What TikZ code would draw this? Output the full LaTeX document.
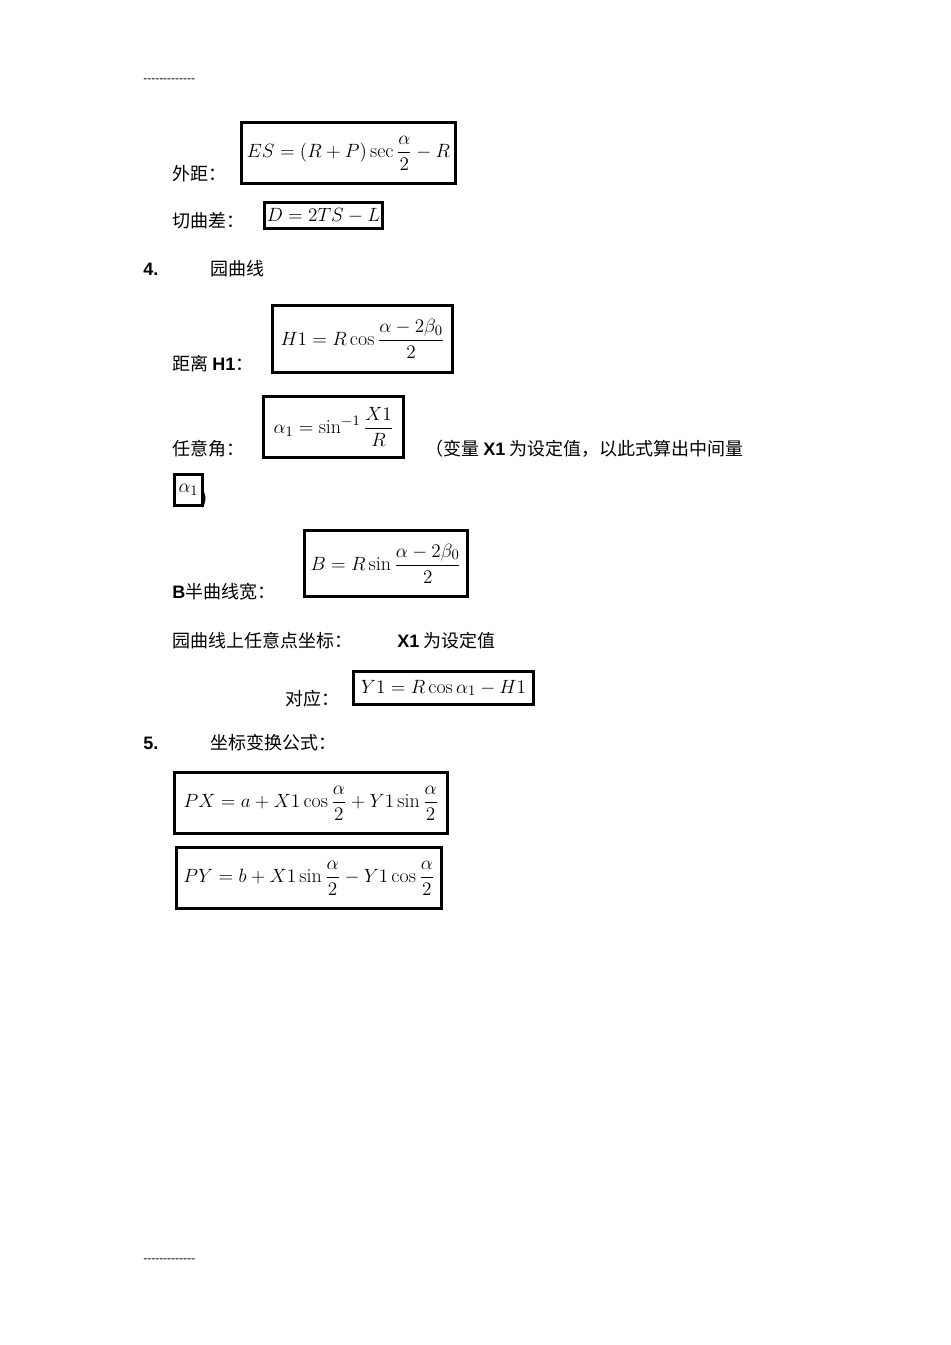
\documentclass[tikz,border=0pt]{standalone}
\usepackage{amsmath}
\usepackage{fontspec}
\newfontfamily\cjk{Noto Sans CJK SC}
\newfontfamily\ar{Liberation Sans}
\begin{document}
\begin{tikzpicture}[x=0.75pt,y=-0.75pt,
  txt/.style={anchor=base west,inner sep=0pt,font=\cjk\fontsize{13.5}{16}\selectfont},
  fbox/.style={draw,line width=2.2pt,inner sep=0pt,anchor=north west,font=\fontsize{15}{18}\selectfont},
  dl/.style={anchor=base west,inner sep=0pt,font=\ar\fontsize{9}{10}\selectfont}]
\useasboundingbox[fill=white] (0,0) rectangle (950,1345);
\node[dl] (d1) at (143,83) {-------------};
\node[dl] (d2) at (143,1262) {-------------};
\node[txt] (t1) at (172,180) {外距：};
\node[fbox,minimum width=160.5pt,minimum height=45.75pt] (f1) at (240,121) {$\displaystyle ES=(R+P)\sec\frac{\alpha}{2}-R$};
\node[txt] (t2) at (172,227) {切曲差：};
\node[fbox,minimum width=88.5pt,minimum height=19.5pt] (f2) at (263,201) {$D=2TS-L$};
\node[txt] (n4) at (143,275) {\ar\bfseries 4.};
\node[txt] (t3) at (210,275) {园曲线};
\node[txt] (t4) at (172,370) {距离 {\ar\bfseries H1}：};
\node[fbox,minimum width=135pt,minimum height=50pt] (f3) at (271,304) {$\displaystyle H1=R\cos\frac{\alpha-2\beta_0}{2}$};
\node[txt] (t5) at (172,455) {任意角：};
\node[fbox,minimum width=105pt,minimum height=45.75pt] (f4) at (262,395) {$\displaystyle \alpha_1=\sin^{-1}\frac{X1}{R}$};
\node[txt] (t6) at (425,455) {（变量 {\ar\bfseries X1} 为设定值，以此式算出中间量};
\node[fbox,minimum width=21pt,minimum height=23pt] (f5) at (173,473) {$\alpha_1$};
\node[txt] (t7) at (201,504) {)};
\node[txt] (t8) at (172,598) {{\ar\bfseries B}半曲线宽：};
\node[fbox,minimum width=122pt,minimum height=49.5pt] (f6) at (303,529) {$\displaystyle B=R\sin\frac{\alpha-2\beta_0}{2}$};
\node[txt] (t9) at (172,647) {园曲线上任意点坐标：};
\node[txt] (t10) at (397,647) {{\ar\bfseries X1} 为设定值};
\node[txt] (t11) at (285,705) {对应：};
\node[fbox,minimum width=135pt,minimum height=24.75pt] (f7) at (352,670) {$Y1=R\cos\alpha_1-H1$};
\node[txt] (n5) at (143,749) {\ar\bfseries 5.};
\node[txt] (t12) at (210,749) {坐标变换公式：};
\node[fbox,minimum width=204.75pt,minimum height=45.75pt] (f8) at (173,771) {$\displaystyle PX=a+X1\cos\frac{\alpha}{2}+Y1\sin\frac{\alpha}{2}$};
\node[fbox,minimum width=198.75pt,minimum height=45.75pt] (f9) at (175,846) {$\displaystyle PY=b+X1\sin\frac{\alpha}{2}-Y1\cos\frac{\alpha}{2}$};
\end{tikzpicture}
\end{document}
